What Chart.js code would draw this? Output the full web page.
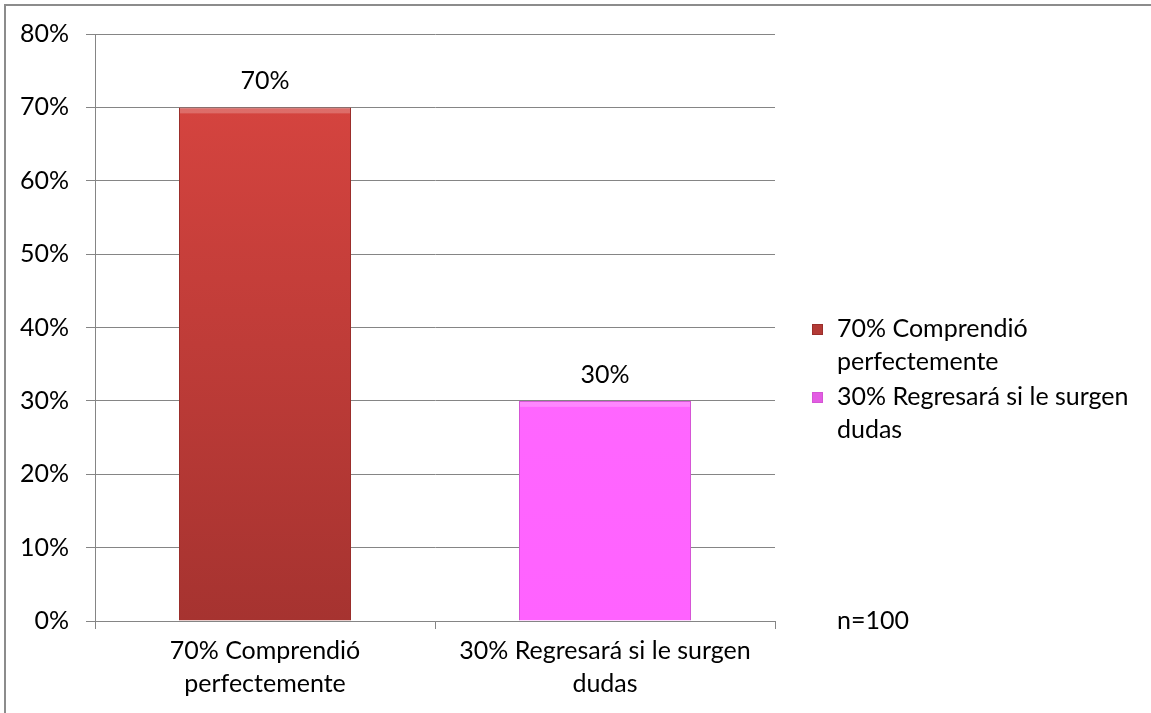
<!DOCTYPE html>
<html>
<head>
<meta charset="utf-8">
<script src="https://cdn.jsdelivr.net/npm/chart.js@4.4.1/dist/chart.umd.min.js"></script>
<style>
  html, body { margin: 0; padding: 0; background: #fff; overflow: hidden; }
  #wrap { position: relative; width: 1151px; height: 713px; }
  #frame { position: absolute; left: 4px; top: 4px; width: 1300px; height: 900px;
           border-top: 2px solid #8c8c8c; border-left: 2px solid #8c8c8c; pointer-events: none; }
  canvas { position: absolute; left: 0; top: 0; }
</style>
</head>
<body>
<div id="wrap">
  <canvas id="c" width="1151" height="713"></canvas>
  <div id="frame"></div>
</div>
<script>
// ---- data ----
const categories = [["70% Comprendió", "perfectemente"], ["30% Regresará si le surgen", "dudas"]];
const legendLabels = [["70% Comprendió", "perfectemente"], ["30% Regresará si le surgen", "dudas"]];
const values = [70, 30];
const dataLabels = ["70%", "30%"];
const yTicksMax = 80;
const yTickStep = 10;
const sampleNote = "n=100";

// ---- styles ----
const FONT = "Lato, 'Open Sans', sans-serif";
const FS = 25;
const barTop = ["#DB4641", "#FF6CFF"];
const barBottom = ["#A63330", "#FF62FF"];
const barEdge = ["#9A2E2B", "#D455D4"];
const swatchCol = ["#B33A36", "#E35CE3"];

function barGradient(ctx) {
  const chart = ctx.chart;
  const area = chart.chartArea;
  if (!area) return barTop[ctx.dataIndex];
  const g = chart.ctx.createLinearGradient(0, area.top, 0, area.bottom);
  g.addColorStop(0, barTop[ctx.dataIndex]);
  g.addColorStop(1, barBottom[ctx.dataIndex]);
  return g;
}

const extras = {
  id: 'extras',
  afterDatasetsDraw(chart) {
    const c = chart.ctx;
    const meta = chart.getDatasetMeta(0);
    c.save();
    // subtle bevel highlight on top edge of bars
    meta.data.forEach((bar, i) => {
      const w = bar.width;
      c.fillStyle = 'rgba(255,255,255,0.22)';
      c.fillRect(bar.x - w / 2 + 1, bar.y + 1, w - 2, 5);
    });
    c.font = FS + "px " + FONT;
    c.fillStyle = "#000";
    c.textAlign = "center";
    c.textBaseline = "middle";
    meta.data.forEach((bar, i) => {
      c.fillText(dataLabels[i], bar.x, bar.y - 26);
    });
    // legend
    const lx = 812, ly = [329, 397], lh = 33;
    c.textAlign = "left";
    legendLabels.forEach((lines, i) => {
      c.fillStyle = swatchCol[i];
      c.fillRect(lx, ly[i] - 5, 11, 11);
      c.strokeStyle = barEdge[i];
      c.lineWidth = 1;
      c.strokeRect(lx + 0.5, ly[i] - 4.5, 10, 10);
      c.fillStyle = "#000";
      lines.forEach((t, k) => c.fillText(t, lx + 25, ly[i] + k * lh));
    });
    // sample note
    c.fillText(sampleNote, 837, chart.chartArea.bottom);
    c.restore();
  }
};

new Chart(document.getElementById('c'), {
  type: 'bar',
  data: {
    labels: categories,
    datasets: [{
      data: values,
      backgroundColor: barGradient,
      borderColor: barEdge,
      borderWidth: 1,
      categoryPercentage: 1,
      barPercentage: 0.506
    }]
  },
  options: {
    responsive: false,
    animation: false,
    devicePixelRatio: 1,
    layout: { padding: { left: 0, top: 34, right: 376, bottom: 0 } },
    plugins: { legend: { display: false }, tooltip: { enabled: false } },
    scales: {
      x: {
        offset: true,
        grid: { display: true, drawOnChartArea: false, drawTicks: true, tickLength: 8, color: '#858585', offset: true },
        border: { display: true, color: '#858585' },
        ticks: { color: '#000', font: { family: FONT, size: FS, lineHeight: 1.3 }, padding: 6, maxRotation: 0, autoSkip: false },
        afterFit(s) { s.height = 92; }
      },
      y: {
        min: 0, max: yTicksMax,
        grid: { color: '#858585', tickLength: 9 },
        border: { display: true, color: '#858585' },
        ticks: { stepSize: yTickStep, color: '#000', font: { family: FONT, size: FS }, padding: 17,
                 callback: v => v + '%' },
        afterFit(s) { s.width = 95; }
      }
    }
  },
  plugins: [extras]
});
</script>
</body>
</html>
